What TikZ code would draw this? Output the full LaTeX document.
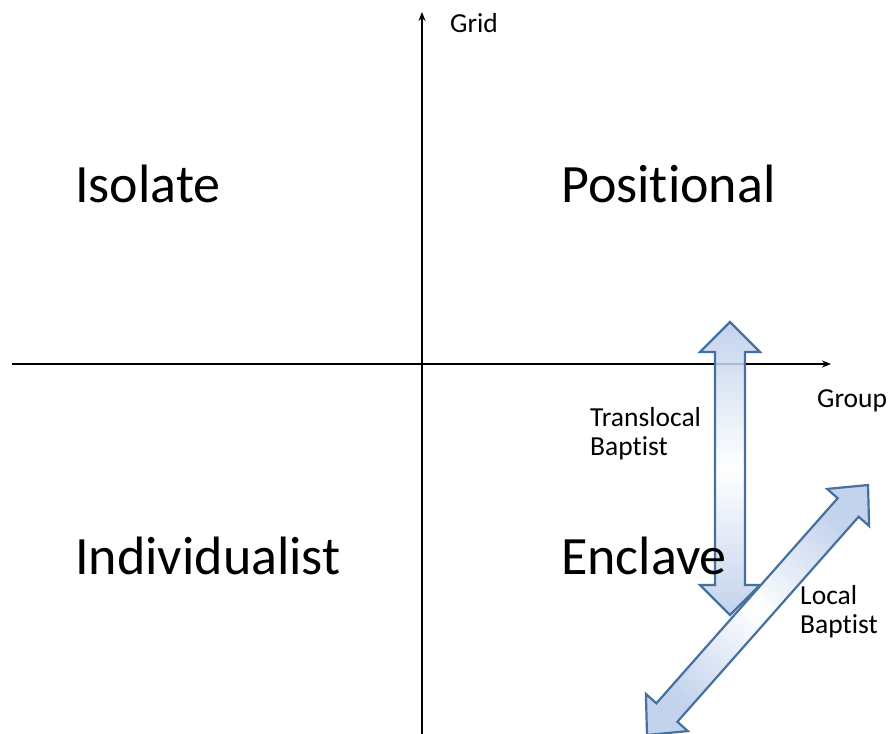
\documentclass[tikz,border=0pt]{standalone}
\usepackage{fontspec}
\setmainfont[Ligatures=NoCommon]{Carlito}
\usepackage{xcolor}
\usepackage{tikz}
\usetikzlibrary{arrows.meta,calc}
\definecolor{cEdge}{HTML}{46709E}
\definecolor{cFill}{HTML}{B8CBEA}
\definecolor{cInk}{HTML}{000000}
\tikzset{
  axis/.style={-{Stealth[length=9pt,width=7pt]},line width=1.8pt,color=cInk},
  barrow/.style={draw=cEdge,line width=2.2pt,line join=miter,top color=cFill,bottom color=cFill,middle color=white,fill opacity=0.85},
  quad/.style={anchor=base west,inner sep=0pt,font=\fontsize{54}{64}\selectfont,text=cInk},
  tag/.style={anchor=base west,inner sep=0pt,align=left,font=\fontsize{27.5}{29}\selectfont,text=cInk},
}
\begin{document}
\begin{tikzpicture}[x=1pt,y=-1pt]
  \useasboundingbox (0,0) rectangle (890,733);
  % axes
  \coordinate (xl) at (12,364);  \coordinate (xr) at (831,364);
  \coordinate (yb) at (422,735); \coordinate (yt) at (422,12);
  \draw[axis] (xl) -- (xr);
  \draw[axis] (yb) -- (yt);
  % block arrows
  \coordinate (vb) at (730,615); \coordinate (vt) at (730,322);
  \coordinate (db) at (647,735); \coordinate (dt) at (868,485);
  \foreach \t/\h/\ang/\sw/\hw in {vb/vt/0/15/30, db/dt/-41.6/14/28}{
    \shade[barrow,shading angle=\ang] (\t)
      -- ($(\t)!30pt!(\h)!\hw pt!90:(\h)$) -- ($(\t)!30pt!(\h)!\sw pt!90:(\h)$)
      -- ($(\h)!30pt!(\t)!\sw pt!-90:(\t)$) -- ($(\h)!30pt!(\t)!\hw pt!-90:(\t)$)
      -- (\h)
      -- ($(\h)!30pt!(\t)!\hw pt!90:(\t)$) -- ($(\h)!30pt!(\t)!\sw pt!90:(\t)$)
      -- ($(\t)!30pt!(\h)!\sw pt!-90:(\h)$) -- ($(\t)!30pt!(\h)!\hw pt!-90:(\h)$)
      -- cycle;}
  % labels
  \node[quad] (iso) at (75,202) {Isolate};
  \node[quad] (pos) at (561,202) {Positional};
  \node[quad] (ind) at (75,574) {Individualist};
  \node[quad] (enc) at (561,574) {Enclave};
  \node[tag] (grid) at (450,33) {Grid};
  \node[tag] (grp) at (817,407) {Group};
  \node[tag] (trb) at (590,455) {Translocal\\Baptist};
  \node[tag] (lcb) at (800,633) {Local\\Baptist};
\end{tikzpicture}
\end{document}
